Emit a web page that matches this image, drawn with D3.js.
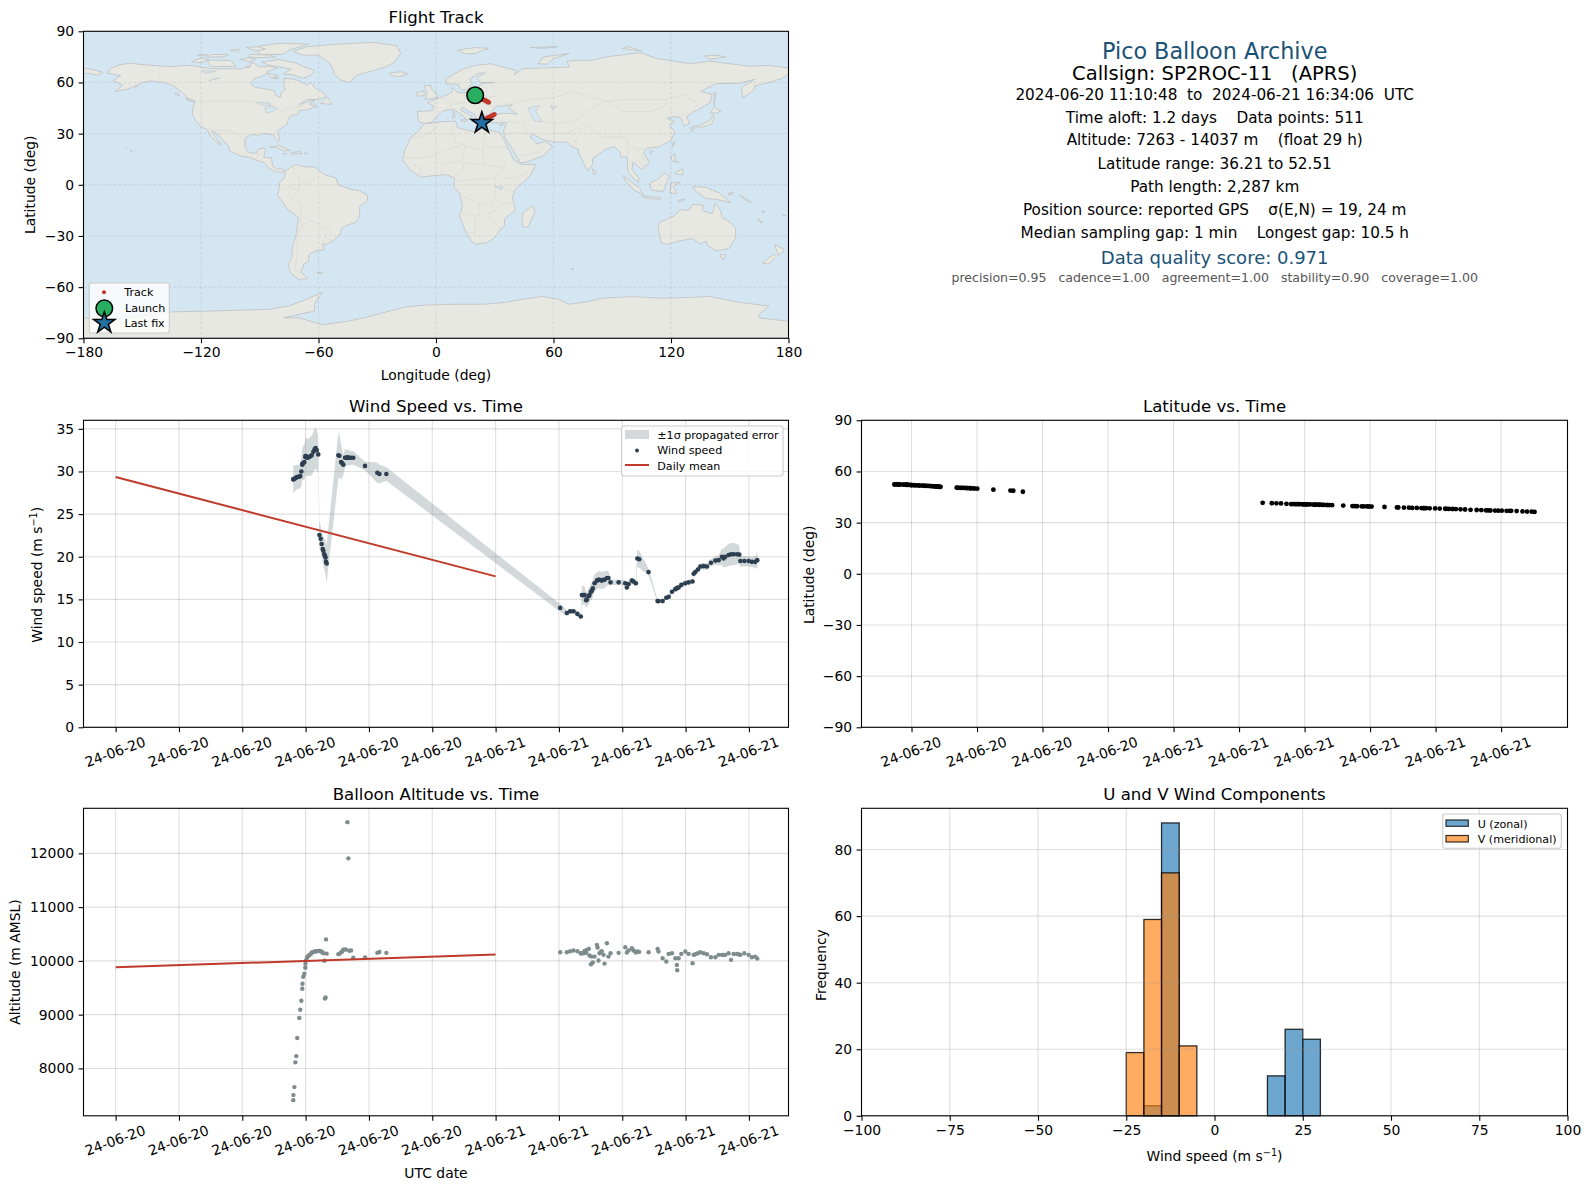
<!DOCTYPE html>
<html><head><meta charset="utf-8">
<script src="https://cdn.jsdelivr.net/npm/d3@7"></script>
<style>
html,body{margin:0;padding:0;background:#fff}
svg{display:block}
text{font-family:"DejaVu Sans",sans-serif;fill:#000}
</style></head><body>
<svg id="fig" width="1590" height="1189"></svg>
<script>
// ---------- observations (hours after 2024-06-20 00:00 UTC) ----------
const obsHours=[11.22,11.23,11.29,11.35,11.41,11.47,11.60,11.66,11.73,11.79,
11.80,11.85,11.92,11.98,11.99,12.02,12.09,12.15,12.23,12.32,
12.38,12.49,12.57,12.63,12.70,12.80,12.87,12.95,13.01,13.08,
13.12,13.18,13.22,13.26,13.29,13.33,14.07,14.13,14.24,14.30,
14.38,14.49,14.55,14.64,14.70,14.76,14.87,15.01,15.75,16.53,
16.66,17.10,
28.08,28.50,28.71,28.92,29.17,29.38,29.45,29.55,29.62,29.72,
29.76,29.89,29.93,30.02,30.08,30.14,30.25,30.40,30.44,30.50,
30.56,30.67,30.71,30.82,30.88,31.03,31.13,31.26,31.77,32.19,
32.29,32.40,32.61,32.71,32.86,32.95,33.07,33.66,34.23,34.29,
34.55,34.78,34.93,35.14,35.35,35.45,35.47,35.56,35.73,35.98,
36.19,36.44,36.51,36.61,36.78,36.93,37.14,37.35,37.60,37.88,
38.09,38.30,38.40,38.51,38.72,38.87,39.03,39.25,39.39,39.46,
39.71,39.98,40.19,40.40,40.53];
const windSpeed=[29.05,29.1,29.15,29.2,29.3,29.35,29.4,29.45,30.0,30.8,
30.9,31.0,31.1,31.7,31.8,31.8,31.6,31.65,31.7,31.8,
31.9,32.3,32.6,32.75,32.5,32.0,22.55,22.1,21.5,20.9,
20.7,20.3,20.1,19.9,19.4,19.2,31.9,31.85,31.1,31.0,
30.8,31.6,31.6,31.65,31.6,31.6,31.6,31.6,30.65,29.85,
29.7,29.7,
14.0,13.4,13.6,13.6,13.3,13.0,15.5,15.5,15.5,14.9,
15.0,15.4,15.5,15.9,16.0,16.3,16.9,17.2,17.25,17.3,
17.3,17.25,17.2,17.3,17.3,17.5,17.5,17.0,17.0,16.9,
16.4,16.8,17.2,17.1,16.9,19.8,19.7,18.2,14.8,14.8,
14.8,15.2,15.3,15.9,16.2,16.3,16.35,16.4,16.7,16.9,
17.0,17.1,18.0,18.2,18.5,18.85,18.9,18.85,19.3,19.55,
19.6,20.0,19.8,20.0,20.2,20.3,20.3,20.3,20.25,19.5,
19.5,19.5,19.4,19.4,19.6];
const windSigma=[1.6,1.6,1.6,1.5,1.5,1.4,1.4,1.5,1.7,1.9,
1.9,2.0,2.1,2.2,2.2,2.2,2.2,2.2,2.2,2.3,
2.3,2.4,2.4,2.4,2.4,2.1,1.6,1.5,1.5,1.6,
1.7,1.8,1.9,2.0,2.1,2.2,2.7,2.6,2.0,1.8,
1.2,1.0,1.0,0.9,0.9,0.9,0.8,0.8,0.5,1.2,
1.1,0.8,
.45,.35,.3,.3,.3,.3,1.1,1.1,1.0,.9,
.9,.9,.9,.9,1.0,1.0,1.0,1.0,1.0,1.0,
1.0,1.0,1.0,1.0,1.0,.9,.8,.3,.3,.3,
.4,.4,.4,.4,.4,1.0,1.0,.4,.2,.2,
.2,.2,.2,.3,.3,.3,.3,.3,.3,.3,
.3,.3,.4,.4,.4,.4,.4,.4,.4,.5,
.6,1.0,1.1,1.2,1.3,1.3,1.3,1.2,1.1,.7,
.6,.6,.6,.7,1.0];
const altitude=[7410,7504,7653,8113,8229,8567,8940,9090,9258,9481,
9575,9705,9761,9873,9948,10010,10060,10085,10110,10122,
10159,10165,10172,10178,10180,10184,10184,10182,10170,10155,
10140,10003,9300,9320,10400,10135,10125,10130,10160,10170,
10210,10215,10210,12580,11907,10190,10195,10060,10065,10150,
10165,10150,
10162,10162,10180,10193,10180,10137,10143,10143,10186,10150,
10205,10224,10100,9938,10080,9969,10080,10298,10249,10006,
10143,10174,10174,10112,9950,10329,10080,10143,10150,10255,
10155,10193,10236,10193,10155,10174,10168,10162,10224,10174,
10050,9988,10130,10143,10050,9925,9826,10050,10130,10174,
10130,9956,10112,10124,10143,10162,10143,10124,10068,10068,
10112,10112,10112,10112,10143,10019,10130,10130,10120,10112,
10143,10112,10068,10080,10043];
const latitude=[52.4,52.4,52.4,52.4,52.35,52.35,52.3,52.3,52.25,52.2,
52.2,52.15,52.1,52.05,52.0,52.0,51.95,51.9,51.85,51.8,
51.75,51.7,51.65,51.6,51.55,51.5,51.4,51.35,51.3,51.25,
51.2,51.15,51.1,51.05,51.0,51.0,50.5,50.45,50.4,50.4,
50.35,50.3,50.25,50.2,50.15,50.1,50.0,49.9,49.3,48.8,
48.7,48.1,
41.6,41.4,41.3,41.25,41.0,40.9,40.9,40.85,40.85,40.8,
40.8,40.75,40.75,40.7,40.7,40.7,40.65,40.6,40.6,40.55,
40.55,40.5,40.5,40.45,40.4,40.35,40.3,40.25,40.0,39.7,
39.65,39.6,39.55,39.5,39.5,39.45,39.4,39.2,38.95,38.9,
38.85,38.75,38.7,38.6,38.55,38.5,38.5,38.45,38.4,38.35,
38.25,38.15,38.1,38.05,38.0,37.95,37.8,37.7,37.5,37.4,
37.35,37.2,37.15,37.1,37.05,37.0,37.0,36.95,36.95,36.9,
36.75,36.6,36.5,36.4,36.3];
// daily means
const meanHours=[0,24];
const meanWind=[29.35,17.7];
const meanAlt=[9880,10120];
// histogram
const uBins=[[-20,-15,3],[-15,-10,88],[15,20,12],[20,25,26],[25,30,23]];
const vBins=[[-25,-20,19],[-20,-15,59],[-15,-10,73],[-10,-5,21]];
// map track
const trackLon=[19.8,20.6,21.4,22.0,22.6,23.2,23.8,24.4,25.0,25.5,26.0,26.5,26.9,
29.8,29.3,28.8,28.3,27.8,27.3,26.8,26.3,25.8,25.3,24.9,24.5,24.1,23.7,23.4];
const trackLat=[52.5,52.0,51.5,51.1,50.7,50.4,50.1,49.8,49.5,49.2,48.9,48.6,48.3,
41.3,40.9,40.6,40.3,40.0,39.7,39.4,39.1,38.8,38.4,38.0,37.6,37.2,36.7,36.3];
const launchPos=[20,52.5];
const lastPos=[23.4,36.3];
// tick labels
const windTickHours=[0,4,8,12,16,20,24,28,32,36,40];
const latTickHours=[12,15,18,21,24,27,30,33,36,39];
// map coastlines (lon,lat)
const land=[
[[-168,65.5],[-166,68.3],[-162,70.2],[-156.5,71.3],[-150,70.5],[-141,69.7],[-135,69.3],[-128,70],[-124,69.8],[-115,68],[-108,68],[-100,68],[-95,69],[-94,72],[-90,69],[-85,69.5],[-81,68.5],[-86,66.5],[-87,64.5],[-93,62],[-94.5,59],[-92,57],[-88,56.5],[-82.5,55],[-82,52.5],[-79.5,51.3],[-79,54],[-77,56],[-78,59],[-77.5,62.5],[-73,62],[-70,61],[-66,58.5],[-64,60],[-61.5,56.5],[-58,54.5],[-56,52],[-60,50],[-66,50],[-70,47],[-65,49],[-64.5,47],[-61,46],[-65.5,44],[-70,43.5],[-70,41.7],[-74,40.6],[-75.5,38],[-76,35.5],[-81,31.5],[-80,27],[-80.5,25.2],[-82,27],[-83,29.2],[-85,29.7],[-89,30],[-90,29],[-94,29.5],[-97.3,27.5],[-97.7,22.5],[-95.5,18.7],[-91.5,18.5],[-90.5,21],[-87,21.5],[-88,16],[-84,15.8],[-83.5,11],[-81,9],[-79,9.5],[-77.3,8.5],[-78,7.5],[-80,7.3],[-83,8.2],[-85.5,10],[-87.5,13],[-92,14.5],[-95,16],[-100,17],[-105.5,20],[-106,23],[-110,27.5],[-112.8,31],[-114.7,31.5],[-112,27],[-109.5,23],[-112,25],[-115,28.5],[-117,32.5],[-120.5,34.5],[-122.5,37.5],[-124.3,40.5],[-124,46],[-123,49],[-127,51],[-130,54.5],[-134,58],[-139,60],[-146,61],[-151,59.5],[-153,58],[-158,56],[-164,54.5],[-160,58.5],[-165,61],[-161,64]],
[[-73,78.2],[-66,81],[-50,82.5],[-32,83.5],[-20,81.5],[-18,77],[-21,72],[-26,69],[-35,66],[-41,64],[-44,60],[-49,61.5],[-52,65],[-53,69],[-55,72],[-60,76],[-68,76]],
[[-80,73.5],[-72,71.5],[-67,69],[-62,67],[-64,64],[-68,62.5],[-73,64.5],[-78,65],[-74,68],[-85,70],[-89,72]],
[[-117,73],[-105,73],[-102,69.5],[-115,69.3]],
[[-90,76.5],[-78,76.5],[-75,79],[-65,82.5],[-80,83],[-92,81]],
[[-125,72],[-120,74.5],[-116,73.5],[-120,71.5]],
[[-96,75],[-90,74.5],[-82,75],[-85,76],[-95,76.5]],
[[-117,75],[-108,75],[-106,76.3],[-115,76.4]],
[[-100,73.5],[-95,72],[-92,73.5],[-96,74.5]],
[[-97,80.5],[-91,81],[-87,79.5],[-92,78.5]],
[[-122,76],[-117,76.5],[-117,75.5]],
[[-105,79],[-100,79.5],[-101,78]],
[[-97,69.5],[-94.5,69.5],[-96,68.5]],
[[-86,65.5],[-81,64],[-84,62.7]],
[[-81,63.5],[-80,62.5],[-83,62.3]],
[[-63,49],[-64,47],[-61,46]],
[[-59,47.7],[-55.5,51.5],[-53,47.2]],
[[-64,49.3],[-62,49.5],[-64,49]],
[[-85,22],[-80,23],[-74.2,20.2],[-78,20],[-82,22]],
[[-74,19],[-69,19.5],[-68.5,18.3],[-74,18]],
[[-78.3,18.4],[-76.3,18.2],[-77,17.8]],
[[-67.2,18.5],[-65.7,18.4],[-66.5,18]],
[[-156,20.2],[-155,19.8],[-155.7,19]],
[[-158.2,21.6],[-157.7,21.4],[-158,21.2]],
[[-133,54],[-131.5,53.5],[-131,52],[-133,53]],
[[-128,50.7],[-124,49.3],[-123.5,48.4],[-126,49]],
[[-154,58],[-152,58.3],[-153.5,57]],
[[-180,68.5],[-175,67.5],[-170,66],[-173,64.3],[-178,65.5],[-180,65]],
[[-77,8],[-72,12],[-67,10.5],[-62,10.5],[-57,6],[-51,4],[-50,0],[-44,-2.5],[-39,-3.5],[-35,-6],[-35,-9],[-39,-13],[-39,-18],[-41,-22],[-46,-24],[-48.5,-26],[-48.7,-28.5],[-52,-32.5],[-56,-35],[-58,-34.5],[-57,-38],[-62,-39],[-65,-41],[-65,-45],[-67.5,-46.5],[-69,-51],[-65.5,-55],[-70,-55.5],[-74,-52],[-75.5,-47],[-73.5,-42],[-73.5,-37],[-71.5,-30],[-70.3,-19],[-76,-14],[-81,-6],[-80,-2],[-80,1],[-77.5,4]],
[[-61,-51.5],[-58,-51.3],[-59,-52.3]],
[[-6,35.8],[3,37],[10,37.3],[11,33.5],[15,32.3],[20,31],[23,32.7],[32,31],[34,28],[37,21],[39.5,15],[43,12],[51,12],[48,5],[41,-2],[39,-7],[40.5,-15],[35,-20],[35,-24],[33,-26],[30,-31],[26,-34],[20,-34.8],[18,-33],[15,-27],[12,-18],[13.5,-12],[12,-5],[9,-1],[9.5,4],[5,6],[-4,5],[-8,4.5],[-13,8.5],[-17,14.5],[-16,20],[-13,27.5],[-9.5,31]],
[[-9,37],[-9.5,43],[-2,43.5],[-1,46],[-4.5,48.3],[2,51],[8,54],[8.5,57],[11,54],[14,54],[19,54.5],[21.5,57.5],[24,59.5],[30,60],[22.5,60],[21,63],[25,65.5],[22,65.5],[17,62],[18.5,59.5],[16,56],[13,55.5],[11,59],[5.5,59],[5,62],[14,68],[20,70],[28,71],[41,67],[40,64.5],[44,68],[54,68.5],[68,69],[67,72.5],[73,73],[80,73],[87,75],[104,77.5],[113,74],[130,71],[140,72.5],[160,69.5],[170,70],[180,68.5],[180,65],[177,62.5],[170,60],[163,58],[162,55],[156.5,51],[156,57],[163,62],[155,59.5],[143,59.3],[135,54.7],[141,53],[140,48],[132,43],[128,40],[129.5,36],[126.5,34.5],[125,39.5],[121,40],[118,39],[122,37],[119,35],[122,31],[120,26],[114,22.3],[108,21.5],[106,19],[109,13],[105,9],[103,11],[100.5,13.5],[100,9],[103.5,4],[103.5,1.5],[100.5,4],[98,8],[97.5,16.5],[94.5,16],[94,19],[91,22.5],[87,21],[80,15.5],[80,12],[77.5,8],[73,18],[72.5,21],[69,22.5],[67,25],[61,25],[57,26],[54,26.7],[49,30],[48,28],[51,25],[51.5,24],[56,25.5],[59.5,22.5],[55,17],[45,13],[43,13],[39,21],[35,28],[34.5,31.5],[36,36.5],[30,36.3],[27,37],[26.5,40],[29,41],[35,42],[41.5,41.5],[37,45],[39,47],[33,46],[30.5,46],[28,42],[26,40.7],[23,40.5],[23,37],[21,38],[19.5,41.5],[13.5,45.5],[12.5,44],[18.5,40],[16,38],[12,42],[9,44.3],[3.5,43.3],[0,39.5],[-2,36.8],[-5.5,36]],
[[-5.5,50],[1,51.2],[0,53.5],[-2,56],[-3,58.5],[-6,58],[-4.5,54],[-5,52]],
[[-10,52],[-6,52.3],[-6,55],[-10,54]],
[[-24,65.5],[-18,66.3],[-14,65],[-19,63.4],[-23,64]],
[[130.9,34],[136,35.5],[140,38],[141.5,41],[142,39],[140.7,35.5],[136,33.8]],
[[140,42],[142,45.5],[145.5,43.3],[143,42]],
[[130,33.5],[132,33],[130.7,31]],
[[142,46],[143,54],[142,54],[142,49]],
[[49.3,-12],[50.5,-16],[47,-25],[44,-24.5],[44,-17]],
[[80,9.5],[82,7],[80.5,6]],
[[95.5,5.5],[104,-2],[106,-6],[101,-3],[97,2]],
[[105,-6.5],[114.5,-7.5],[114,-8.7],[106,-7.5]],
[[109,1],[113,3],[117,7],[119,5],[117.5,0.5],[116,-4],[110,-3]],
[[119.5,-5],[120,1],[125,1.5],[121,-1],[123,-5]],
[[131,-1],[138,-1.5],[145,-5],[150.5,-10.5],[143,-8.5],[138,-8],[133,-4]],
[[120,16],[122,18.5],[122,14],[124,13],[120.5,14]],
[[122,7],[126,9.5],[126,6],[124,6]],
[[121,25],[122,25],[120.8,22]],
[[109,20],[111,19.8],[109.5,18.2]],
[[124,-9],[127,-8.5],[124,-10.2]],
[[149,-5.5],[152,-4.2],[151,-6.2]],
[[155,-6],[161,-10],[160,-10.5]],
[[166.5,-15],[168,-16],[167,-16.5]],
[[164,-20],[167,-22],[166,-22.4]],
[[177,-17.5],[178.5,-18],[177.5,-18.3]],
[[114,-22],[113.5,-26],[115,-34],[118,-35],[124,-33],[131,-31.5],[135,-34.7],[138,-33],[138.5,-35.5],[143,-38.7],[147,-38],[150,-37],[153,-31],[153,-25],[149,-21],[146,-19],[145.3,-15],[142.5,-10.8],[141,-17],[136,-15],[136.5,-12],[131,-11.5],[129,-15],[125,-14.5],[122,-18],[117,-20.5]],
[[145,-41],[148,-41],[147,-43.5],[146,-43.5]],
[[173,-35],[178,-38],[175,-41.5],[174,-39]],
[[172.7,-40.7],[174,-42],[170,-46.5],[166.5,-46],[171,-42]],
[[11,79],[20,80.5],[27,80],[20,77],[15,76.8]],
[[52,71],[55,75],[68,77],[60,74],[57,70.7]],
[[95,80],[100,79],[105,78.5],[98,81]],
[[137,75.5],[143,76],[148,75],[140,73.6]],
[[48,80.5],[62,81],[55,80]],
[[32.5,35.3],[34.5,35.6],[33,34.6]],
[[23.5,35.5],[26.2,35.2],[24,35]],
[[12.5,38],[15.5,38.2],[15,36.7]],
[[8.3,41],[9.7,41],[9.5,39],[8.5,39]],
[[8.6,43],[9.5,43],[9.2,41.4]],
[[69,-49],[70.5,-49.2],[69.5,-49.6]],
[[-180,-78],[-165,-79],[-150,-77],[-135,-74.5],[-115,-74],[-100,-73.5],[-85,-73],[-75,-71],[-68,-68],[-58,-63],[-60,-66],[-62,-70],[-62,-74],[-78,-78],[-70,-78],[-58,-82],[-45,-80],[-35,-77.5],[-27,-75],[-15,-71.5],[-5,-70.5],[10,-70],[25,-70],[35,-69],[45,-67],[54,-65.5],[62,-67],[68,-70],[75,-69],[85,-66.5],[100,-65.5],[115,-66.5],[130,-66],[140,-65.5],[155,-69],[170,-71],[165,-76],[165,-78],[180,-80],[180,-90],[-180,-90]]
];
const lakes=[
[[47,45],[53,46.5],[51,43],[54,37],[50,37.5],[48,42]],
[[-92,48.5],[-85,48],[-84.5,46.5],[-88,46.5]],
[[-87.5,45],[-84,46],[-81,45],[-83,43],[-86.5,42]],
[[58.5,46.5],[61.5,46],[59.5,44]],
[[30,-1],[34,-1],[33,-3]],
[[-112,66.5],[-118,65.5],[-120,67]],
[[-114,62],[-110,62.7],[-116,61]]
];
const borders=[
[[-123,49],[-95,49],[-88,48],[-83,46],[-79,43],[-75,45],[-70,46],[-67,47]],
[[-141,60],[-141,69.7]],
[[-117,32.5],[-106,31.7],[-101,29.5],[-97.3,26]],
[[-92,14.5],[-91,17.5],[-89,18]],
[[-72,12],[-73,7],[-70,4],[-70,-4],[-74,-8],[-69,-11],[-69,-18],[-62,-22],[-57,-25],[-54,-26],[-57,-30],[-53,-33]],
[[-60,5],[-62,4],[-65,1],[-70,2]],
[[-81,-4],[-75,-1],[-70,-4]],
[[-70,-18],[-69,-24],[-71,-32],[-71,-40],[-72,-50],[-69,-52]],
[[-62,-22],[-66,-22],[-69,-24]],
[[-1,35],[-1,32],[-8,28],[-13,27.5]],
[[9,37],[8,32],[10,25],[15,23],[24,20],[25,31]],
[[25,22],[37,22]],
[[-16,16],[-5,16],[3,19],[12,23]],
[[-8,5],[-8,10],[-12,12]],
[[3,6],[3,12],[13,14],[15,23]],
[[9,4],[14,10],[14,13],[24,12],[24,20]],
[[24,12],[34,10],[36,15]],
[[10,2],[18,3],[30,4],[34,10]],
[[30,4],[30,-8],[28,-12],[22,-11],[12,-6]],
[[34,4],[41,4],[48,8]],
[[30,-1],[40,-4]],
[[22,-11],[22,-18],[12,-17]],
[[20,-18],[20,-28],[16,-28]],
[[33,-26],[30,-22],[25,-18],[30,-15],[34,-11],[40,-10.5]],
[[2,51],[8,49],[7,46],[3.5,43.3]],
[[-2,43.5],[3,42.5]],
[[14,54],[15,51],[13,48],[10,47.5],[7,46]],
[[19,54.5],[24,51],[22,48],[17,48],[13,48]],
[[28,60],[30,55],[32,52],[24,51]],
[[22,48],[30,46],[40,48],[47,50],[60,51],[70,55],[80,51],[87,49],[98,50],[108,50],[117,50],[126,53],[134,48],[131,43]],
[[87,49],[80,45],[74,40],[70,37],[61,36],[54,37]],
[[87,49],[96,43],[110,43],[118,47],[117,50]],
[[74,37],[79,33],[85,28],[97,28],[98,24],[102,21],[108,21.5]],
[[61,36],[60,31],[61,25]],
[[70,37],[72,33],[67,30],[61,30]],
[[74,33],[71,25],[69,22.5]],
[[44,37],[46,39],[48,38.5]],
[[36,37],[42,37],[47,30],[45,37]],
[[35,29],[42,31],[47,29.5]],
[[44,17],[52,19],[55,22]],
[[98,24],[98,16],[100,13],[103,14],[107,11]],
[[102,21],[105,18],[107,14]],
[[123,40],[130,42.5]]
];
const fmt=n=>String(n).replace("-","\u2212");
const svg=d3.select("#fig");
const defs=svg.append("defs");
defs.append("filter").attr("id","soft").attr("x","-2%").attr("y","-2%").attr("width","104%").attr("height","104%")
  .append("feGaussianBlur").attr("stdDeviation",0.45);
const FONT=13.9;
const gridCol="rgba(150,150,150,0.3)";
const RED_W=2;
const COLX=[[83.5,788.5],[861.5,1567.5]];
const ROWY=[[31.3,338.3],[420.3,727.3],[808.3,1115.8]];

function dayLabel(h){return h<24?"24-06-20":"24-06-21";}
function panel(col,row,xDom,yDom){
  const x=d3.scaleLinear().domain(xDom).range(COLX[col]);
  const y=d3.scaleLinear().domain(yDom).range([ROWY[row][1],ROWY[row][0]]);
  const g=svg.append("g");
  return {x,y,g,left:COLX[col][0],right:COLX[col][1],top:ROWY[row][0],bottom:ROWY[row][1]};
}
function clipFor(p,id){
  svg.append("clipPath").attr("id",id).append("rect")
    .attr("x",p.left).attr("y",p.top).attr("width",p.right-p.left).attr("height",p.bottom-p.top);
}
function grid(p,xt,yt){
  const g=p.g.append("g").attr("stroke",gridCol).attr("stroke-width",1.1);
  g.selectAll(".gx").data(xt).join("line").attr("x1",d=>p.x(d)).attr("x2",d=>p.x(d)).attr("y1",p.top).attr("y2",p.bottom);
  g.selectAll(".gy").data(yt).join("line").attr("y1",d=>p.y(d)).attr("y2",d=>p.y(d)).attr("x1",p.left).attr("x2",p.right);
}
function axes(p,xt,yt,xf,rotated){
  const ax=p.g.append("g").attr("transform",`translate(0,${p.bottom})`)
    .call(d3.axisBottom(p.x).tickValues(xt).tickFormat(xf).tickSize(4.9).tickPadding(4));
  const ay=p.g.append("g").attr("transform",`translate(${p.left},0)`)
    .call(d3.axisLeft(p.y).tickValues(yt).tickFormat(fmt).tickSize(4.9).tickPadding(4.5));
  [ax,ay].forEach(a=>{
    a.select(".domain").remove();
    a.selectAll("line").attr("stroke","#000").attr("stroke-width",1.1);
    a.selectAll("text").style("font-family",'"DejaVu Sans",sans-serif').style("font-size",FONT+"px").attr("fill","#000");
  });
  if(rotated){
    ax.selectAll("text").attr("y",0).attr("dy",0)
      .attr("dominant-baseline","central").attr("text-anchor","middle")
      .attr("transform","translate(-1,24.5) rotate(-20)");
  }
  p.g.append("rect").attr("x",p.left).attr("y",p.top).attr("width",p.right-p.left).attr("height",p.bottom-p.top)
    .attr("fill","none").attr("stroke","#000").attr("stroke-width",1.1);
}
function title(p,t){
  svg.append("text").attr("x",(p.left+p.right)/2).attr("y",p.top-8).attr("text-anchor","middle").style("font-size","16.6px").text(t);
}
function xlabel(p,parts,yy){
  const t=svg.append("text").attr("x",(p.left+p.right)/2).attr("y",yy).attr("text-anchor","middle").style("font-size",FONT+"px");
  addParts(t,parts);
}
function ylabel(p,parts,xx,shift){
  const c=(p.top+p.bottom)/2+(shift||0);
  const t=svg.append("text").attr("transform",`translate(${xx},${c}) rotate(-90)`).attr("text-anchor","middle").style("font-size",FONT+"px");
  addParts(t,parts);
}
function addParts(t,parts){
  if(typeof parts==="string"){t.text(parts);return;}
  t.append("tspan").text(parts[0]);
  t.append("tspan").attr("dy",-5).style("font-size","9.7px").text(parts[1]);
  t.append("tspan").attr("dy",5).text(parts[2]);
}
function legendBox(x0,y0,x1,y1){
  svg.append("rect").attr("x",x0).attr("y",y0).attr("width",x1-x0).attr("height",y1-y0).attr("rx",2.5)
    .attr("fill","rgba(255,255,255,0.8)").attr("stroke","#ccc").attr("stroke-width",1.1);
}
function legendText(x,y,s){
  svg.append("text").attr("x",x).attr("y",y).attr("dominant-baseline","central").style("font-size","11.1px").text(s);
}

// ---------- map ----------
{
  const p=panel(0,0,[-180,180],[-90,90]);
  clipFor(p,"c0");
  const clip=p.g.append("g").attr("clip-path","url(#c0)");
  clip.append("rect").attr("x",p.left).attr("y",p.top).attr("width",p.right-p.left).attr("height",p.bottom-p.top).attr("fill","#d4e6f1");
  const line=d3.line().x(d=>p.x(d[0])).y(d=>p.y(d[1]));
  const closed=d3.line().x(d=>p.x(d[0])).y(d=>p.y(d[1])).curve(d3.curveLinearClosed);
  const soft=clip.append("g").attr("filter","url(#soft)");
  soft.selectAll(".land").data(land).join("path").attr("d",closed).attr("fill","#e8e8e3").attr("stroke","#c4c8ca").attr("stroke-width",1).attr("stroke-linejoin","round");
  soft.selectAll(".border").data(borders).join("path").attr("d",line).attr("fill","none").attr("stroke","#dcdcd8").attr("stroke-width",0.9);
  soft.selectAll(".lake").data(lakes).join("path").attr("d",closed).attr("fill","#d4e6f1").attr("stroke","#c4c8ca").attr("stroke-width",0.7);
  const xt=d3.range(-180,181,60), yt=d3.range(-90,91,30);
  const gr=clip.append("g").attr("stroke","rgba(120,120,120,0.2)").attr("stroke-width",0.8).attr("stroke-dasharray","3,2");
  gr.selectAll(".a").data(xt).join("line").attr("x1",d=>p.x(d)).attr("x2",d=>p.x(d)).attr("y1",p.top).attr("y2",p.bottom);
  gr.selectAll(".b").data(yt).join("line").attr("y1",d=>p.y(d)).attr("y2",d=>p.y(d)).attr("x1",p.left).attr("x2",p.right);
  clip.selectAll(".t").data(trackLon).join("circle").attr("cx",d=>p.x(d)).attr("cy",(d,i)=>p.y(trackLat[i])).attr("r",2.4).attr("fill","#c0392b");
  clip.append("circle").attr("cx",p.x(launchPos[0])).attr("cy",p.y(launchPos[1])).attr("r",8.3).attr("fill","#27ae60").attr("stroke","#000").attr("stroke-width",1.5);
  const star=d3.symbol(d3.symbolStar).size(140)();
  clip.append("path").attr("d",star).attr("transform",`translate(${p.x(lastPos[0])},${p.y(lastPos[1])})`).attr("fill","#2471a3").attr("stroke","#000").attr("stroke-width",1.5);
  axes(p,xt,yt,fmt,false);
  title(p,"Flight Track");
  xlabel(p,"Longitude (deg)",380);
  ylabel(p,"Latitude (deg)",35);
  legendBox(89.3,283,169.3,333);
  svg.append("circle").attr("cx",104).attr("cy",292.3).attr("r",2).attr("fill","#c0392b");
  legendText(124.3,292.6,"Track");
  svg.append("circle").attr("cx",104.3).attr("cy",308.3).attr("r",8.3).attr("fill","#27ae60").attr("stroke","#000").attr("stroke-width",1.5);
  legendText(125,308.3,"Launch");
  svg.append("path").attr("d",star).attr("transform","translate(104.3,323)").attr("fill","#2471a3").attr("stroke","#000").attr("stroke-width",1.5);
  legendText(124.5,323,"Last fix");
}

// ---------- info block ----------
{
  const cx=1214.7;
  const rows=[
    [50.5,22.3,"#1a5276","Pico Balloon Archive"],
    [73.5,19.5,"#000","Callsign: SP2ROC-11   (APRS)"],
    [94.5,15.26,"#000","2024-06-20 11:10:48  to  2024-06-21 16:34:06  UTC"],
    [118,15.26,"#000","Time aloft: 1.2 days    Data points: 511"],
    [140,15.26,"#000","Altitude: 7263 - 14037 m    (float 29 h)"],
    [163.5,15.26,"#000","Latitude range: 36.21 to 52.51"],
    [187,15.26,"#000","Path length: 2,287 km"],
    [210,15.26,"#000","Position source: reported GPS    \u03c3(E,N) = 19, 24 m"],
    [233,15.26,"#000","Median sampling gap: 1 min    Longest gap: 10.5 h"],
    [257,18,"#1a5276","Data quality score: 0.971"],
    [277.8,12.55,"#555","precision=0.95   cadence=1.00   agreement=1.00   stability=0.90   coverage=1.00"]
  ];
  rows.forEach(r=>{
    svg.append("text").attr("x",cx).attr("y",r[0]).attr("text-anchor","middle").attr("dominant-baseline","central")
      .attr("xml:space","preserve").style("white-space","pre").style("font-size",r[1]+"px").style("fill",r[2]).text(r[3]);
  });
}

// ---------- wind speed ----------
{
  const p=panel(0,1,[-2.03,42.5],[0,36.0]);
  const yt=d3.range(0,36,5);
  grid(p,windTickHours,yt);
  const area=d3.area().x(d=>p.x(d)).y0((d,i)=>p.y(windSpeed[i]-windSigma[i])).y1((d,i)=>p.y(windSpeed[i]+windSigma[i]));
  p.g.append("path").datum(obsHours).attr("d",area).attr("fill","#95a5a6").attr("fill-opacity",0.42);
  const line=d3.line().x(d=>p.x(d)).y((d,i)=>p.y(meanWind[i]));
  p.g.append("path").datum(meanHours).attr("d",line).attr("fill","none").attr("stroke","#c0392b").attr("stroke-width",RED_W);
  p.g.append("g").selectAll("circle").data(obsHours).join("circle").attr("cx",d=>p.x(d)).attr("cy",(d,i)=>p.y(windSpeed[i])).attr("r",2.3).attr("fill","#2c3e50");
  axes(p,windTickHours,yt,dayLabel,true);
  title(p,"Wind Speed vs. Time");
  ylabel(p,["Wind speed (m s","\u22121",")"],42,1);
  legendBox(621.5,426,783,476);
  svg.append("rect").attr("x",625).attr("y",430).attr("width",24).attr("height",9).attr("fill","#95a5a6").attr("fill-opacity",0.42);
  legendText(657.3,435.3,"\u00b11\u03c3 propagated error");
  svg.append("circle").attr("cx",637).attr("cy",450.5).attr("r",1.9).attr("fill","#2c3e50");
  legendText(657.3,450.7,"Wind speed");
  svg.append("line").attr("x1",625).attr("x2",649).attr("y1",465).attr("y2",465).attr("stroke","#c0392b").attr("stroke-width",RED_W);
  legendText(657.3,466.3,"Daily mean");
}

// ---------- latitude ----------
{
  const p=panel(1,1,[9.71,42.04],[-90,90]);
  const yt=d3.range(-90,91,30);
  grid(p,latTickHours,yt);
  p.g.append("g").selectAll("circle").data(obsHours).join("circle").attr("cx",d=>p.x(d)).attr("cy",(d,i)=>p.y(latitude[i])).attr("r",2.4).attr("fill","#000");
  axes(p,latTickHours,yt,dayLabel,true);
  title(p,"Latitude vs. Time");
  ylabel(p,"Latitude (deg)",814,1);
}

// ---------- altitude ----------
{
  const p=panel(0,2,[-2.03,42.5],[7119,12838]);
  const yt=d3.range(8000,12001,1000);
  grid(p,windTickHours,yt);
  p.g.append("g").selectAll("circle").data(obsHours).join("circle").attr("cx",d=>p.x(d)).attr("cy",(d,i)=>p.y(altitude[i])).attr("r",2.2).attr("fill","#7f8c8d");
  const line=d3.line().x(d=>p.x(d)).y((d,i)=>p.y(meanAlt[i]));
  p.g.append("path").datum(meanHours).attr("d",line).attr("fill","none").attr("stroke","#c0392b").attr("stroke-width",RED_W);
  axes(p,windTickHours,yt,dayLabel,true);
  title(p,"Balloon Altitude vs. Time");
  xlabel(p,"UTC date",1178);
  ylabel(p,"Altitude (m AMSL)",20);
}

// ---------- histogram ----------
{
  const p=panel(1,2,[-100,100],[0,92.4]);
  const xt=d3.range(-100,101,25), yt=d3.range(0,81,20);
  const drawBars=(bins,col)=>p.g.append("g").selectAll("rect").data(bins).join("rect")
    .attr("x",d=>p.x(d[0])).attr("width",d=>p.x(d[1])-p.x(d[0])).attr("y",d=>p.y(d[2])).attr("height",d=>p.y(0)-p.y(d[2]))
    .attr("fill",col).attr("fill-opacity",0.65).attr("stroke","#000").attr("stroke-opacity",0.8).attr("stroke-width",1.3);
  drawBars(uBins,"#1f77b4");
  drawBars(vBins,"#ff7f0e");
  grid(p,xt,yt);
  axes(p,xt,yt,fmt,false);
  title(p,"U and V Wind Components");
  xlabel(p,["Wind speed (m s","\u22121",")"],1161);
  ylabel(p,"Frequency",826,3);
  legendBox(1442.7,814,1561.3,848.3);
  svg.append("rect").attr("x",1446).attr("y",820).attr("width",22.3).attr("height",6.3).attr("fill","#1f77b4").attr("fill-opacity",0.65).attr("stroke","#000").attr("stroke-opacity",.8).attr("stroke-width",1.2);
  legendText(1477.7,824,"U (zonal)");
  svg.append("rect").attr("x",1446).attr("y",835.5).attr("width",22.3).attr("height",6.5).attr("fill","#ff7f0e").attr("fill-opacity",0.65).attr("stroke","#000").attr("stroke-opacity",.8).attr("stroke-width",1.2);
  legendText(1477.7,839.5,"V (meridional)");
}
</script>
</body></html>
